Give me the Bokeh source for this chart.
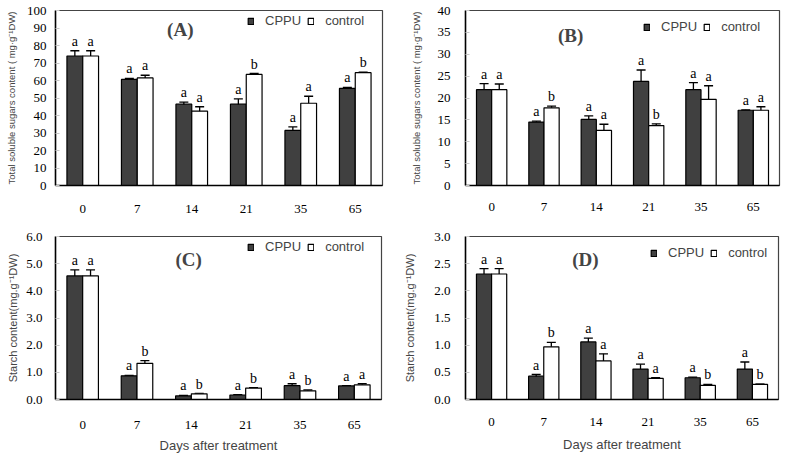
from bokeh.plotting import figure
from bokeh.models import (ColumnDataSource, Whisker, Legend, LegendItem, Label,
                          FactorRange, Range1d, TeeHead, PrintfTickFormatter, FixedTicker)
from bokeh.transform import dodge
from bokeh.layouts import column, row
from bokeh.embed import file_html
from bokeh.resources import INLINE
from bokeh.core.properties import value

days = ["0", "7", "14", "21", "35", "65"]

# (A) total soluble sugars, panel A
a_cppu = [74.0, 60.6, 46.5, 46.5, 31.5, 55.5]
a_cppu_err = [3.0, 0.6, 1.2, 3.0, 2.0, 0.6]
a_ctrl = [74.0, 61.5, 42.5, 63.5, 47.0, 64.5]
a_ctrl_err = [3.0, 1.5, 2.5, 0.5, 4.0, 0.3]
a_cppu_sig = ["a", "a", "a", "a", "a", "a"]
a_ctrl_sig = ["a", "a", "a", "b", "a", "b"]

# (B) total soluble sugars, panel B
b_cppu = [21.9, 14.5, 15.1, 23.8, 21.9, 17.2]
b_cppu_err = [1.4, 0.2, 0.8, 2.6, 1.6, 0.1]
b_ctrl = [21.9, 17.75, 12.6, 13.7, 19.7, 17.2]
b_ctrl_err = [1.3, 0.4, 1.4, 0.4, 3.1, 0.8]
b_cppu_sig = ["a", "a", "a", "a", "a", "a"]
b_ctrl_sig = ["a", "b", "a", "b", "a", "a"]

# (C) starch, panel C
c_cppu = [4.55, 0.87, 0.13, 0.165, 0.51, 0.50]
c_cppu_err = [0.22, 0.02, 0.02, 0.01, 0.07, 0.01]
c_ctrl = [4.55, 1.33, 0.21, 0.42, 0.32, 0.54]
c_ctrl_err = [0.22, 0.10, 0.01, 0.02, 0.03, 0.04]
c_cppu_sig = ["a", "a", "a", "a", "a", "a"]
c_ctrl_sig = ["a", "b", "b", "b", "b", "a"]

# (D) starch, panel D
d_cppu = [2.31, 0.43, 1.06, 0.56, 0.40, 0.56]
d_cppu_err = [0.10, 0.03, 0.07, 0.09, 0.01, 0.13]
d_ctrl = [2.31, 0.97, 0.71, 0.39, 0.26, 0.28]
d_ctrl_err = [0.10, 0.08, 0.13, 0.01, 0.02, 0.003]
d_cppu_sig = ["a", "a", "a", "a", "a", "a"]
d_ctrl_sig = ["a", "b", "a", "a", "b", "b"]

a_ticks = [0, 10, 20, 30, 40, 50, 60, 70, 80, 90, 100]
b_ticks = [0, 5, 10, 15, 20, 25, 30, 35, 40]
c_ticks = [0, 1, 2, 3, 4, 5, 6]
d_ticks = [0, 0.5, 1.0, 1.5, 2.0, 2.5, 3.0]

SERIF = "Liberation Serif"
SANS = "Liberation Sans"
BW = 0.29


def panel(cppu, cppu_err, ctrl, ctrl_err, cppu_sig, ctrl_sig, ticks, fmt,
          ylabel, title, title_xy, legend_xy, width, height, borders,
          xlabel=None, ylab_standoff=6, ytick_standoff=8, xtick_standoff=12,
          xlab_standoff=6, ylab_size="11px"):
    src = ColumnDataSource(dict(
        days=days,
        cppu=cppu, ctrl=ctrl,
        cppu_hi=[v + e for v, e in zip(cppu, cppu_err)],
        cppu_lo=[v - e for v, e in zip(cppu, cppu_err)],
        ctrl_hi=[v + e for v, e in zip(ctrl, ctrl_err)],
        ctrl_lo=[v - e for v, e in zip(ctrl, ctrl_err)],
        cppu_sig=cppu_sig, ctrl_sig=ctrl_sig,
    ))
    left, right, top, bottom = borders
    p = figure(x_range=FactorRange(*days), y_range=Range1d(ticks[0], ticks[-1]),
               width=width, height=height, output_backend="svg",
               toolbar_location=None, min_border_left=left, min_border_right=right,
               min_border_top=top, min_border_bottom=bottom)
    p.xgrid.grid_line_color = None
    p.ygrid.grid_line_color = None
    p.outline_line_color = "#444444"
    p.outline_line_width = 1.2

    xc = dodge("days", -BW / 2, range=p.x_range)
    xk = dodge("days", BW / 2, range=p.x_range)
    r1 = p.vbar(x=xc, top="cppu", width=BW, source=src, fill_color="#404040",
                line_color="black", line_width=1.2)
    r2 = p.vbar(x=xk, top="ctrl", width=BW, source=src, fill_color="white",
                line_color="black", line_width=1.2)
    for base, hi, lo in [(xc, "cppu_hi", "cppu_lo"), (xk, "ctrl_hi", "ctrl_lo")]:
        w = Whisker(base=base, upper=hi, lower=lo, source=src,
                    line_color="black", line_width=1.3,
                    upper_head=TeeHead(size=9, line_color="black", line_width=1.3),
                    lower_head=TeeHead(size=9, line_color="black", line_width=1.3))
        p.add_layout(w)
    for xx, hi, sig in [(xc, "cppu_hi", "cppu_sig"), (xk, "ctrl_hi", "ctrl_sig")]:
        p.text(x=xx, y=hi, text=sig, source=src, text_font=value(SERIF),
               text_font_size="14px", text_align="center", text_baseline="bottom",
               y_offset=-2, text_color="black")

    # axes
    p.yaxis.ticker = FixedTicker(ticks=ticks)
    if fmt:
        p.yaxis.formatter = PrintfTickFormatter(format=fmt)
    p.yaxis.major_tick_in = 4
    p.yaxis.major_tick_out = 0
    p.yaxis.major_tick_line_color = "#c8c8c8"
    p.yaxis.minor_tick_line_color = None
    p.yaxis.major_label_standoff = ytick_standoff
    p.yaxis.axis_label = ylabel
    p.yaxis.axis_label_text_font = SANS
    p.yaxis.axis_label_text_font_size = ylab_size
    p.yaxis.axis_label_text_font_style = "normal"
    p.yaxis.axis_label_standoff = ylab_standoff
    p.xaxis.major_tick_line_color = None
    p.xaxis.minor_tick_line_color = None
    p.xaxis.major_label_standoff = xtick_standoff
    for ax in (p.xaxis, p.yaxis):
        ax.axis_line_color = "black"
        ax.axis_line_width = 1.5
        ax.major_label_text_font = SERIF
        ax.major_label_text_font_size = "13px"
        ax.major_label_text_color = "black"
    if xlabel:
        p.xaxis.axis_label = xlabel
        p.xaxis.axis_label_text_font = SANS
        p.xaxis.axis_label_text_font_size = "13px"
        p.xaxis.axis_label_text_font_style = "normal"
        p.xaxis.axis_label_standoff = xlab_standoff

    p.add_layout(Label(x=title_xy[0], y=title_xy[1], text=title, text_font=SERIF,
                       text_font_size="19px", text_font_style="bold",
                       text_align="center", text_baseline="middle"))

    leg = Legend(items=[LegendItem(label="CPPU", renderers=[r1]),
                        LegendItem(label="control", renderers=[r2])],
                 location=legend_xy, orientation="horizontal",
                 glyph_width=7, glyph_height=8, label_standoff=11, spacing=6,
                 padding=0, margin=0, border_line_alpha=0, background_fill_alpha=0,
                 label_text_font=SANS, label_text_font_size="13px", label_height=13)
    p.add_layout(leg)
    return p


pA = panel(a_cppu, a_cppu_err, a_ctrl, a_ctrl_err, a_cppu_sig, a_ctrl_sig, a_ticks, None,
           "Total soluble sugars content ( mg\u00b7g\u207b\u00b9DW)", "(A)", (2.29, 89.0),
           (192, 157), 395, 228, (55, 13, 9, 43), ylab_standoff=7, ytick_standoff=9,
           xtick_standoff=13, ylab_size="9.5px")
pB = panel(b_cppu, b_cppu_err, b_ctrl, b_ctrl_err, b_cppu_sig, b_ctrl_sig, b_ticks, None,
           "Total soluble sugars content ( mg\u00b7g\u207b\u00b9DW)", "(B)", (2.01, 34.3),
           (178, 151), 392, 228, (70, 8, 10, 43), ylab_standoff=13, ytick_standoff=15,
           xtick_standoff=11, ylab_size="9.5px")
pC = panel(c_cppu, c_cppu_err, c_ctrl, c_ctrl_err, c_cppu_sig, c_ctrl_sig, c_ticks, "%.1f",
           "Starch content(mg.g\u207b\u00b9DW)", "(C)", (2.45, 5.15),
           (192, 145), 395, 228, (55, 14, 8, 51), xlabel="Days after treatment",
           ylab_standoff=4, ytick_standoff=13, xtick_standoff=15, xlab_standoff=6)
pD = panel(d_cppu, d_cppu_err, d_ctrl, d_ctrl_err, d_cppu_sig, d_ctrl_sig, d_ticks, "%.1f",
           "Starch content(mg.g\u207b\u00b9DW)", "(D)", (2.30, 2.58),
           (185, 139), 392, 228, (70, 9, 7, 57), xlabel="Days after treatment",
           ylab_standoff=15, ytick_standoff=15, xtick_standoff=12, xlab_standoff=8)

layout = column(row(pA, pB), row(pC, pD))

open("out.html", "w").write(file_html(layout, INLINE))
